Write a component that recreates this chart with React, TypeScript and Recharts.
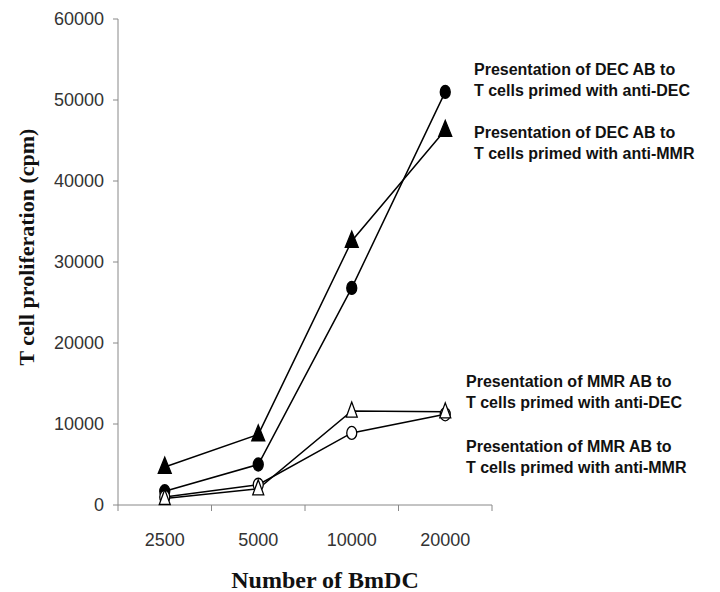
import { LineChart, Line, XAxis, YAxis } from 'recharts';

// BmDC numbers on the x axis
const cells = ['2500', '5000', '10000', '20000'];

// T cell proliferation (cpm)
const decToAntiDec = [1700, 5000, 26800, 51000];
const decToAntiMmr = [4700, 8700, 32600, 46300];
const mmrToAntiDec = [800, 2000, 11600, 11500];
const mmrToAntiMmr = [1000, 2500, 8900, 11200];

const yTicks = [0, 10000, 20000, 30000, 40000, 50000, 60000];

const notes = [
  ['Presentation of DEC AB to', 'T cells primed with anti-DEC'],
  ['Presentation of DEC AB to', 'T cells primed with anti-MMR'],
  ['Presentation of MMR AB to', 'T cells primed with anti-DEC'],
  ['Presentation of MMR AB to', 'T cells primed with anti-MMR'],
];

const data = cells.map((c, i) => ({
  cells: c,
  decDec: decToAntiDec[i],
  decMmr: decToAntiMmr[i],
  mmrDec: mmrToAntiDec[i],
  mmrMmr: mmrToAntiMmr[i],
}));

const W = 720;
const H = 592;
const margin = { top: 19, right: 228, bottom: 0, left: 18 };
const plotBottom = 505;
const halfBand = (W - 118 - margin.right) / cells.length / 2;

const Dot = ({ cx, cy, filled }: any) => (
  <ellipse cx={cx} cy={cy} rx={5} ry={6.5} fill={filled ? '#000' : '#fff'} stroke="#000" strokeWidth={1.3} />
);

const Tri = ({ cx, cy, filled }: any) => {
  const w = filled ? 13 : 11;
  const h = filled ? 16 : 15;
  const pts = `${cx},${cy - h * 0.6} ${cx - w / 2},${cy + h * 0.4} ${cx + w / 2},${cy + h * 0.4}`;
  return <polygon points={pts} fill={filled ? '#000' : '#fff'} stroke="#000" strokeWidth={1.3} />;
};

const XTick = ({ x, payload, index }: any) => (
  <g>
    <text x={x} y={546} textAnchor="middle" fontSize={18} fill="#333" fontFamily="Arial, Liberation Sans">
      {payload.value}
    </text>
    {index === 0 && <line x1={x - halfBand} x2={x - halfBand} y1={plotBottom} y2={plotBottom + 6} stroke="#888" />}
    <line x1={x + halfBand} x2={x + halfBand} y1={plotBottom} y2={plotBottom + 6} stroke="#888" />
  </g>
);

const noteTop = [59, 122, 371, 436];
const noteLeft = [474, 474, 466, 466];

export default function App() {
  return (
    <div style={{ position: 'absolute', left: 0, top: 0, width: W, height: H, background: '#fff' }}>
      <LineChart width={W} height={H} data={data} margin={margin}>
        <XAxis
          dataKey="cells"
          height={H - plotBottom}
          stroke="#888"
          tickLine={false}
          tick={<XTick />}
          interval={0}
          padding={{ left: halfBand, right: halfBand }}
        />
        <YAxis
          domain={[0, 60000]}
          ticks={yTicks}
          width={100}
          stroke="#888"
          tickSize={5}
          tickMargin={9}
          tick={{ fill: '#333', fontSize: 18, fontFamily: 'Arial, Liberation Sans' }}
          interval={0}
        />
        <Line dataKey="decMmr" stroke="#000" strokeWidth={1.5} isAnimationActive={false} dot={<Tri filled />} />
        <Line dataKey="decDec" stroke="#000" strokeWidth={1.5} isAnimationActive={false} dot={<Dot filled />} />
        <Line dataKey="mmrMmr" stroke="#000" strokeWidth={1.5} isAnimationActive={false} dot={<Dot />} />
        <Line dataKey="mmrDec" stroke="#000" strokeWidth={1.5} isAnimationActive={false} dot={<Tri />} />
      </LineChart>
      <div
        style={{
          position: 'absolute',
          left: 27,
          top: 247,
          transform: 'translate(-50%, -50%) rotate(-90deg)',
          whiteSpace: 'nowrap',
          fontFamily: 'Times New Roman, Liberation Serif',
          fontWeight: 'bold',
          fontSize: 22,
          color: '#111',
        }}
      >
        T cell proliferation (cpm)
      </div>
      <div
        style={{
          position: 'absolute',
          left: 325,
          top: 580,
          transform: 'translate(-50%, -50%)',
          whiteSpace: 'nowrap',
          fontFamily: 'Times New Roman, Liberation Serif',
          fontWeight: 'bold',
          fontSize: 24,
          color: '#111',
        }}
      >
        Number of BmDC
      </div>
      {notes.map((n, i) => (
        <div
          key={i}
          style={{
            position: 'absolute',
            left: noteLeft[i],
            top: noteTop[i],
            fontFamily: 'Arial, Liberation Sans',
            fontWeight: 'bold',
            fontSize: 16,
            lineHeight: '21px',
            color: '#111',
            whiteSpace: 'nowrap',
          }}
        >
          <div>{n[0]}</div>
          <div>{n[1]}</div>
        </div>
      ))}
    </div>
  );
}
